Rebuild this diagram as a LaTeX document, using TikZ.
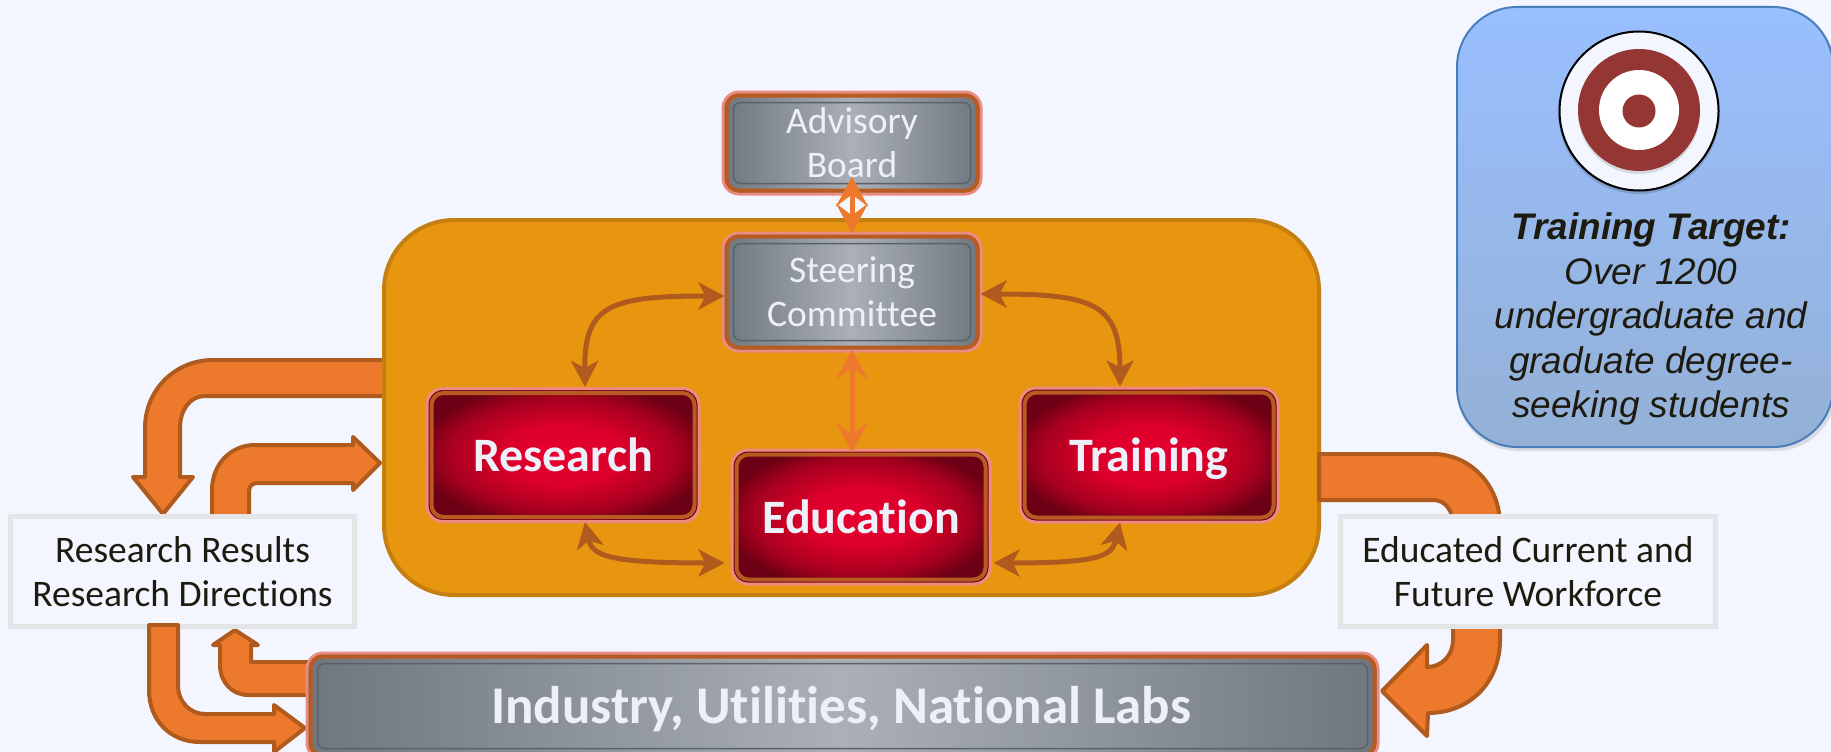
\documentclass[tikz,border=0pt]{standalone}
\usepackage{fontspec}
\setmainfont{Carlito}[Ligatures=CommonOff]
\newfontfamily\arialfont{Liberation Sans}
\usetikzlibrary{arrows.meta}
\definecolor{bgc}{HTML}{F3F6FE}
\definecolor{mainfill}{HTML}{E8950F}
\definecolor{mainline}{HTML}{C47F10}
\definecolor{blockfill}{HTML}{ED7A2C}
\definecolor{brownline}{HTML}{B05A1E}
\definecolor{salmon}{HTML}{EC8C80}
\definecolor{ringc}{HTML}{B85B22}
\definecolor{framec}{HTML}{59626A}
\definecolor{greyedge}{HTML}{6F767D}
\definecolor{greymid}{HTML}{ABB0B7}
\definecolor{redA}{HTML}{E80030}
\definecolor{redB}{HTML}{DC002B}
\definecolor{redC}{HTML}{A8001F}
\definecolor{redD}{HTML}{6C0014}
\definecolor{boxline}{HTML}{E3E5E6}
\definecolor{inkc}{HTML}{1D1B10}
\definecolor{bluetop}{HTML}{99BFFF}
\definecolor{bluebot}{HTML}{94B0D6}
\definecolor{blueline}{HTML}{4A7EBB}
\definecolor{targetred}{HTML}{943634}
\definecolor{softwhite}{HTML}{EDF0F8}
\pgfdeclareradialshading{redglow}{\pgfpoint{0bp}{0bp}}{color(0bp)=(redA); color(11bp)=(redB); color(21bp)=(redC); color(27bp)=(redD); color(50bp)=(redD)}
\tikzset{
  block/.style={fill=blockfill,draw=brownline,line width=4pt,line join=round},
  bevel/.style={draw=salmon,line width=3pt,rounded corners=16pt,align=center,inner sep=0pt},
  greybox/.style={bevel,left color=greyedge,right color=greyedge,middle color=greymid},
  redbox/.style={bevel,shading=redglow},
  greytext/.style={text=softwhite,align=center,inner sep=0pt,font=\fontsize{37.5}{44}\selectfont},
  redtext/.style={text=softwhite,inner sep=0pt,anchor=base,font=\bfseries\fontsize{48}{50}\selectfont},
  ringline/.style={draw=ringc,line width=4pt,rounded corners=12pt},
  frameline/.style={draw=framec,line width=1.5pt,rounded corners=7pt},
  labelbox/.style={draw=boxline,fill=bgc,line width=5pt,align=center,inner sep=0pt,text=inkc,font=\fontsize{37.5}{44.5}\selectfont},
  linkO/.style={draw=blockfill,line width=5pt,{Stealth[length=30pt,width=32pt,inset=12pt]}-{Stealth[length=30pt,width=32pt,inset=12pt]}},
  linkB/.style={draw=brownline,line width=5pt,{Stealth[length=26pt,width=27pt,inset=7pt]}-{Stealth[length=26pt,width=27pt,inset=7pt]}},
  dot/.style={circle,inner sep=0pt}
}
\newcommand{\greyrings}[1]{%
  \draw[ringline] ([shift={(5,5)}]#1.north west) rectangle ([shift={(-5,-5)}]#1.south east);
  \draw[frameline] ([shift={(12,12)}]#1.north west) rectangle ([shift={(-12,-12)}]#1.south east);
}
\newcommand{\redrings}[1]{%
  \draw[ringline] ([shift={(6,6)}]#1.north west) rectangle ([shift={(-6,-6)}]#1.south east);
}
\begin{document}
\begin{tikzpicture}[x=1pt,y=-1pt]
\useasboundingbox (0,0) rectangle (1831,752);
\fill[bgc] (0,0) rectangle (1831,752);
\begin{scope}
\clip (0,0) rectangle (1831,752);

% block arrows behind the centre panel and the label boxes
\draw[block] (385,360) -- (213,360) .. controls (175,360) and (145,390) .. (145,428) -- (145,477) -- (133,477) -- (163,514) -- (193,477) -- (180,477) -- (180,428) .. controls (180,410) and (190,396) .. (205,396) -- (385,396) -- cycle;
\draw[block] (212,518) -- (212,490) .. controls (212,465) and (230,445) .. (255,445) -- (353,445) -- (353,437) -- (380,463) -- (353,490) -- (353,483) -- (258,483) .. controls (252,483) and (249,486) .. (249,492) -- (249,518) -- cycle;

\node[draw=mainline,fill=mainfill,line width=4pt,rounded corners=70pt,minimum width=935pt,minimum height=375pt,inner sep=0pt] (panel) at (851.5,407.5) {};

\draw[block] (1319,454) -- (1433,454) .. controls (1470,454) and (1500,485) .. (1500,525) -- (1500,640) .. controls (1500,682) and (1470,713) .. (1428,713) -- (1427,736) -- (1382,691) -- (1427,645) -- (1427,667) .. controls (1442,667) and (1453,655) .. (1453,640) -- (1453,525) .. controls (1453,510) and (1445,500) .. (1433,500) -- (1319,500) -- cycle;
\draw[block] (310,662) -- (251,662) -- (251,645) -- (258,645) -- (235,630) -- (213,645) -- (220,645) -- (220,665) .. controls (220,682) and (232,695) .. (248,695) -- (310,695) -- cycle;

% label boxes
\node[labelbox,minimum width=344pt,minimum height=110pt] (results) at (182.5,571.5) {Research Results\\Research Directions};
\node[labelbox,minimum width=375pt,minimum height=110pt] (workforce) at (1528,571.5) {Educated Current and\\Future Workforce};

\draw[block] (149,625) -- (178,625) -- (178,685) .. controls (178,702) and (190,714) .. (205,714) -- (274,714) -- (274,705) -- (305,728) -- (274,752) -- (274,742) -- (200,742) .. controls (170,742) and (149,720) .. (149,690) -- cycle;

% grey boxes
\node[greybox,minimum width=258pt,minimum height=102pt] (advisory) at (852,143) {};
\greyrings{advisory}
\node[greytext] (advisorytext) at (852,143) {Advisory\\Board};
\node[greybox,minimum width=258pt,minimum height=118pt] (steering) at (852,292) {};
\greyrings{steering}
\node[greytext] (steeringtext) at (852,292) {Steering\\Committee};
\node[greybox,minimum width=1071pt,minimum height=106pt] (industry) at (842.5,706) {};
\greyrings{industry}
\node[text=softwhite,font=\bfseries\fontsize{53}{60}\selectfont,inner sep=0pt,anchor=base] (industrytext) at (841,723) {Industry, Utilities, National Labs};

% red boxes
\node[redbox,minimum width=272pt,minimum height=133pt] (research) at (563,455) {};
\redrings{research}
\node[redtext] (researchtext) at (563,471) {Research};
\node[redbox,minimum width=258pt,minimum height=134pt] (training) at (1149,455) {};
\redrings{training}
\node[redtext] (trainingtext) at (1149,471) {Training};
\node[redbox,minimum width=258pt,minimum height=134pt] (education) at (861,517) {};
\redrings{education}
\node[redtext] (educationtext) at (861,533) {Education};

% links
\draw[linkO] ([yshift=19pt]advisory.south) -- ([yshift=-2pt]steering.north);
\draw[linkO] ([yshift=3pt]steering.south) -- ([yshift=-4pt]steering.south |- education.north);
\draw[linkB] ([shift={(3pt,-4pt)}]steering.west) .. controls (610,296) and (584,305) .. ([xshift=22pt]research.north);
\draw[linkB] ([shift={(-2pt,-2pt)}]steering.east) .. controls (1095,294) and (1120,305) .. ([xshift=-29pt]training.north);
\draw[linkB] ([shift={(22pt,1pt)}]research.south) .. controls (592,556) and (610,563) .. ([shift={(-6pt,-46pt)}]education.west);
\draw[linkB] ([shift={(-29pt,1pt)}]training.south) .. controls (1112,556) and (1100,563) .. ([shift={(2pt,-46pt)}]education.east);

% training target panel
\fill[black,opacity=.10,rounded corners=60pt] (1457,10) rectangle (1836,451);
\node[draw=blueline,top color=bluetop,bottom color=bluebot,line width=2pt,rounded corners=60pt,minimum width=376pt,minimum height=440pt,inner sep=0pt] (targetpanel) at (1645,227) {};
\fill[black,opacity=.15] (1639,113) circle[radius=81];
\node[dot,draw=black,fill=bgc,line width=2pt,minimum size=159pt] (ringouter) at (1639,111) {};
\fill[black,opacity=.12] (1639,113) circle[radius=61];
\node[dot,fill=targetred,minimum size=122pt] (ringred) at (1639,110) {};
\node[dot,fill=white,minimum size=80pt] (ringwhite) at (1639,110) {};
\node[dot,fill=targetred,minimum size=33pt] (bullseye) at (1639,111) {};
\node[align=center,text=inkc,inner sep=0pt,font=\arialfont\itshape\fontsize{37}{44.5}\selectfont] (targettext) at (1651,319) {{\bfseries Training Target:}\\Over 1200\\undergraduate and\\graduate degree-\\seeking students};
\end{scope}
\end{tikzpicture}
\end{document}
